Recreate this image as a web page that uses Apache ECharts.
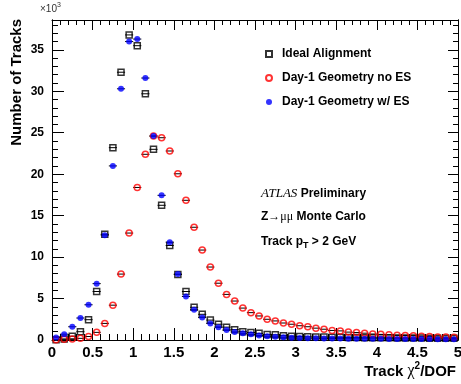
<!DOCTYPE html>
<html>
<head>
<meta charset="utf-8">
<script src="https://cdn.jsdelivr.net/npm/echarts@6/dist/echarts.min.js"></script>
<style>
  html, body { margin: 0; padding: 0; background: #fff; }
  #chart { width: 461px; height: 384px; }
</style>
</head>
<body>
<div id="chart"></div>
<script>
// bin centres of track chi2/DOF (bin width 0.1)
const chi2Bins = [
  0.05, 0.15, 0.25, 0.35, 0.45, 0.55, 0.65, 0.75, 0.85, 0.95,
  1.05, 1.15, 1.25, 1.35, 1.45, 1.55, 1.65, 1.75, 1.85, 1.95,
  2.05, 2.15, 2.25, 2.35, 2.45, 2.55, 2.65, 2.75, 2.85, 2.95,
  3.05, 3.15, 3.25, 3.35, 3.45, 3.55, 3.65, 3.75, 3.85, 3.95,
  4.05, 4.15, 4.25, 4.35, 4.45, 4.55, 4.65, 4.75, 4.85, 4.95
]
const binHalfWidth = 0.05

// number of tracks, in units of 10^3
const idealAlignment = [
  0.03, 0.12, 0.45, 1.0, 2.45, 5.85, 12.75, 23.2, 32.3, 36.8,
  35.5, 29.7, 23.0, 16.25, 11.4, 7.9, 5.85, 3.95, 3.1, 2.4,
  1.9, 1.55, 1.25, 1.0, 0.9, 0.8, 0.65, 0.62, 0.52, 0.45,
  0.42, 0.38, 0.36, 0.35, 0.33, 0.32, 0.3, 0.3, 0.28, 0.27,
  0.27, 0.26, 0.25, 0.25, 0.24, 0.23, 0.22, 0.22, 0.21, 0.2
]
const day1NoES = [
  0.02, 0.08, 0.12, 0.2, 0.42, 0.92, 2.0, 4.2, 7.95, 12.9,
  18.4, 22.4, 24.6, 24.4, 22.8, 20.05, 16.85, 13.6, 10.85, 8.8,
  6.85, 5.5, 4.7, 3.85, 3.3, 2.9, 2.5, 2.3, 2.05, 1.9,
  1.72, 1.6, 1.43, 1.3, 1.15, 1.1, 0.95, 0.9, 0.82, 0.72,
  0.68, 0.62, 0.56, 0.55, 0.52, 0.44, 0.42, 0.37, 0.35, 0.34
]
const day1WithES = [
  0.3, 0.7, 1.6, 2.65, 4.25, 6.8, 12.65, 21.0, 30.3, 36.0,
  36.3, 31.6, 24.6, 17.45, 11.8, 7.95, 5.25, 3.65, 2.7, 2.0,
  1.55, 1.2, 0.98, 0.8, 0.68, 0.55, 0.45, 0.38, 0.32, 0.26,
  0.24, 0.22, 0.2, 0.19, 0.18, 0.17, 0.16, 0.15, 0.15, 0.14,
  0.14, 0.13, 0.13, 0.12, 0.12, 0.11, 0.11, 0.1, 0.1, 0.1
]

const seriesNames = ["Ideal Alignment", "Day-1 Geometry no ES", "Day-1 Geometry w/ ES"]

const FONT = "'Liberation Sans', Arial, sans-serif"
const SERIF = "'Liberation Serif', 'Times New Roman', serif"

const toPoints = values => chi2Bins.map((x, i) => [x, values[i]])

// horizontal bin-width bars drawn through the axis scales
function binBars(values) {
  return {
    type: "custom",
    xAxisIndex: 0,
    yAxisIndex: 0,
    silent: true,
    z: 1,
    renderItem: function (params, api) {
      const x = api.value(0)
      const y = api.value(1)
      const p1 = api.coord([x - binHalfWidth, y])
      const p2 = api.coord([x + binHalfWidth, y])
      return {
        type: "line",
        shape: { x1: p1[0], y1: p1[1], x2: p2[0], y2: p2[1] },
        style: { stroke: "#000", lineWidth: 1 }
      }
    },
    data: toPoints(values)
  }
}

function frameAxis(pos, interval, tickLen, extra) {
  return Object.assign({
    type: "value",
    position: pos,
    min: 0,
    interval: interval,
    axisLine: { show: true, onZero: false, lineStyle: { color: "#000", width: 1 } },
    axisTick: { show: true, inside: true, length: tickLen, lineStyle: { color: "#000", width: 1 } },
    axisLabel: { show: false },
    splitLine: { show: false }
  }, extra || {})
}

const chart = echarts.init(document.getElementById("chart"), null, { renderer: "canvas" })

const Y_MAX = 38.6

chart.setOption({
  animation: false,
  backgroundColor: "#fff",
  grid: { left: 52, right: 3, top: 20, bottom: 44, containLabel: false, outerBoundsMode: "none" },
  xAxis: [
    frameAxis("bottom", 0.5, 12, {
      max: 5,
      minorTick: { show: true, splitNumber: 5, length: 6, lineStyle: { color: "#000", width: 1 } },
      axisLabel: { show: true, margin: 5, color: "#000", fontFamily: FONT, fontWeight: "bold", fontSize: 15 }
    }),
    frameAxis("top", 0.5, 10, {
      max: 5,
      minorTick: { show: true, splitNumber: 5, length: 5, lineStyle: { color: "#000", width: 1 } }
    })
  ],
  yAxis: [
    frameAxis("left", 5, 12, {
      max: Y_MAX,
      axisLabel: { show: true, margin: 8, showMaxLabel: false, color: "#000", fontFamily: FONT, fontWeight: "bold", fontSize: 12 }
    }),
    frameAxis("left", 1, 6, { max: Y_MAX }),
    frameAxis("right", 5, 10, { max: Y_MAX }),
    frameAxis("right", 1, 5, { max: Y_MAX })
  ],
  legend: {
    orient: "vertical",
    left: 260,
    top: 42,
    itemWidth: 6,
    itemHeight: 6,
    itemGap: 10,
    data: seriesNames,
    textStyle: { color: "#000", fontFamily: FONT, fontWeight: "bold", fontSize: 12, lineHeight: 14, padding: [0, 0, 0, 5] }
  },
  series: [
    binBars(idealAlignment),
    binBars(day1NoES),
    binBars(day1WithES),
    {
      name: seriesNames[0],
      type: "scatter",
      xAxisIndex: 0,
      yAxisIndex: 0,
      z: 3,
      symbol: "rect",
      symbolSize: 6,
      itemStyle: { color: "rgba(255,255,255,0)", borderColor: "#000", borderWidth: 1.5 },
      data: toPoints(idealAlignment)
    },
    {
      name: seriesNames[1],
      type: "scatter",
      xAxisIndex: 0,
      yAxisIndex: 0,
      z: 4,
      symbol: "circle",
      symbolSize: 6,
      itemStyle: { color: "rgba(255,255,255,0)", borderColor: "#ff0000", borderWidth: 1.5 },
      data: toPoints(day1NoES)
    },
    {
      name: seriesNames[2],
      type: "scatter",
      xAxisIndex: 0,
      yAxisIndex: 0,
      z: 5,
      symbol: "circle",
      symbolSize: 6,
      itemStyle: { color: "#0000ff" },
      data: toPoints(day1WithES)
    }
  ],
  graphic: [
    {
      type: "text",
      left: 40,
      top: 2,
      style: {
        text: "{n|×10}{s|3}",
        rich: {
          n: { fontFamily: FONT, fontSize: 10, fill: "#333", verticalAlign: "bottom", lineHeight: 12 },
          s: { fontFamily: FONT, fontSize: 7, fill: "#333", verticalAlign: "top", lineHeight: 12 }
        }
      }
    },
    {
      type: "text",
      x: 17,
      y: 19,
      rotation: Math.PI / 2,
      style: {
        text: "Number of Tracks",
        fill: "#000",
        fontFamily: FONT,
        fontWeight: "bold",
        fontSize: 15,
        textAlign: "right",
        textVerticalAlign: "middle"
      }
    },
    {
      type: "text",
      x: 456,
      y: 370,
      style: {
        text: "{b|Track }{c|χ}{s|2}{b|/DOF}",
        textAlign: "right",
        textVerticalAlign: "middle",
        rich: {
          b: { fontFamily: FONT, fontWeight: "bold", fontSize: 15, fill: "#000", lineHeight: 18, verticalAlign: "bottom" },
          c: { fontFamily: SERIF, fontSize: 16, fill: "#000", lineHeight: 18, verticalAlign: "bottom" },
          s: { fontFamily: FONT, fontWeight: "bold", fontSize: 10, fill: "#000", lineHeight: 18, verticalAlign: "top" }
        }
      }
    },
    {
      type: "text",
      x: 261,
      y: 194,
      style: {
        text: "{a|ATLAS} {b|Preliminary}",
        textVerticalAlign: "middle",
        rich: {
          a: { fontFamily: SERIF, fontStyle: "italic", fontSize: 13, fill: "#000" },
          b: { fontFamily: FONT, fontWeight: "bold", fontSize: 12, fill: "#000" }
        }
      }
    },
    {
      type: "text",
      x: 261,
      y: 217,
      style: {
        text: "{b|Z}{s|→μμ}{b| Monte Carlo}",
        textVerticalAlign: "middle",
        rich: {
          b: { fontFamily: FONT, fontWeight: "bold", fontSize: 12, fill: "#000" },
          s: { fontFamily: SERIF, fontSize: 12, fill: "#000" }
        }
      }
    },
    {
      type: "text",
      x: 261,
      y: 243,
      style: {
        text: "{b|Track p}{t|T}{b| > 2 GeV}",
        textVerticalAlign: "middle",
        rich: {
          b: { fontFamily: FONT, fontWeight: "bold", fontSize: 12, fill: "#000", lineHeight: 14, verticalAlign: "top" },
          t: { fontFamily: FONT, fontWeight: "bold", fontSize: 9, fill: "#000", lineHeight: 12, verticalAlign: "bottom", padding: [6, 0, 0, 0] }
        }
      }
    }
  ]
})
</script>
</body>
</html>
